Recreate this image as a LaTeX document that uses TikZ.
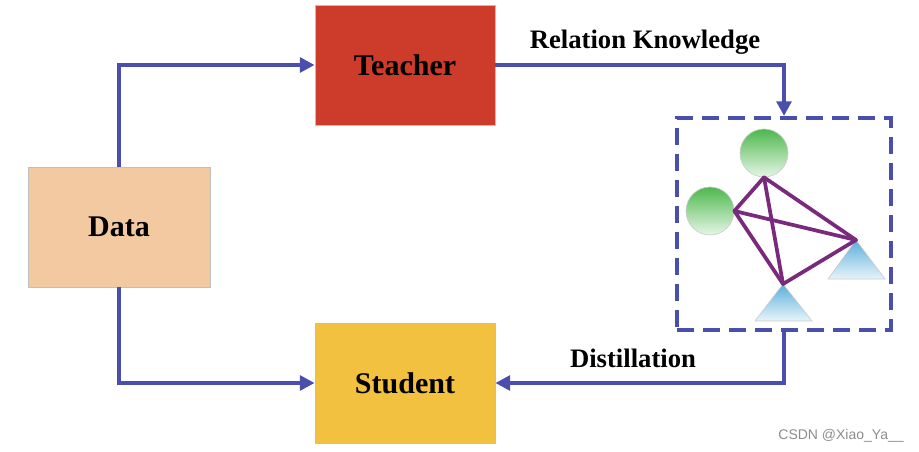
\documentclass[tikz,border=0pt]{standalone}
\usepackage{fontspec}
\setmainfont{Liberation Serif}
\newfontfamily\wmfont{Liberation Sans}
\usetikzlibrary{arrows.meta}
\definecolor{flowblue}{HTML}{4A4FAE}
\definecolor{teachred}{HTML}{CD3B2B}
\definecolor{datapeach}{HTML}{F2C9A1}
\definecolor{studyellow}{HTML}{F2C13F}
\definecolor{relpurple}{HTML}{7A2A7C}
\definecolor{greendark}{HTML}{4DB84D}
\definecolor{greenlight}{HTML}{E6F6E6}
\definecolor{bluedark}{HTML}{5AAFDA}
\definecolor{bluelight}{HTML}{E8F4FA}
\tikzset{
  block/.style={draw=black!25, line width=0.6pt, minimum width=135pt, minimum height=90pt,
                font=\fontsize{22.5}{26}\selectfont\bfseries, inner sep=0pt},
  flow/.style={draw=flowblue, line width=3pt, -{Triangle[length=11pt,width=11pt]}},
  lbl/.style={font=\fontsize{20}{24}\selectfont\bfseries, inner sep=0pt},
  ball/.style={circle, draw=black!20, line width=0.5pt, minimum size=36pt, inner sep=0pt,
               top color=greendark, bottom color=greenlight},
  tri/.style={draw=black!20, line width=0.5pt, top color=bluedark, bottom color=bluelight},
  rel/.style={draw=relpurple, line width=2.8pt, line cap=round}
}
\begin{document}
\begin{tikzpicture}[x=0.75pt, y=-0.75pt]
\useasboundingbox (0,0) rectangle (919,452);
% main blocks
\node[block, fill=datapeach, minimum width=136.5pt] (data) at (119,227) {Data};
\node[block, fill=teachred] (teacher) at (405,65) {Teacher};
\node[block, fill=studyellow] (student) at (405,383) {Student};
% knowledge box
\node[draw=flowblue, line width=3pt, dash pattern=on 13pt off 6.5pt,
      minimum width=160.5pt, minimum height=159pt, inner sep=0pt] (kbox) at (784,224) {};
% circles
\node[ball] (c1) at (764,153) {};
\node[ball] (c2) at (710,211) {};
% triangles
\coordinate (t1) at (856,240);
\coordinate (t2) at (783,284);
\path[tri] (t1) -- (885,279) -- (828,279) -- cycle;
\path[tri] (t2) -- (812,321) -- (755,321) -- cycle;
% relation lines
\draw[rel] (c1.south) -- (c2.east);
\draw[rel] (c1.south) -- (t1);
\draw[rel] (c1.south) -- (t2);
\draw[rel] (c2.east) -- (t1);
\draw[rel] (c2.east) -- (t2);
\draw[rel] (t2) -- (t1);
% flows
\draw[flow] (data.north) |- (teacher.west);
\draw[flow] (data.south) |- (student.west);
\draw[flow] (teacher.east) -| (kbox.north);
\draw[flow] (kbox.south) |- (student.east);
% labels
\node[lbl] (rk) at (645,42) {Relation Knowledge};
\node[lbl] (dist) at (633,358) {Distillation};
\node[font=\wmfont\fontsize{10.5}{12}\selectfont, text=black!45, inner sep=0pt] (wm) at (841,436) {CSDN @Xiao\_Ya\_\_};
\end{tikzpicture}
\end{document}
